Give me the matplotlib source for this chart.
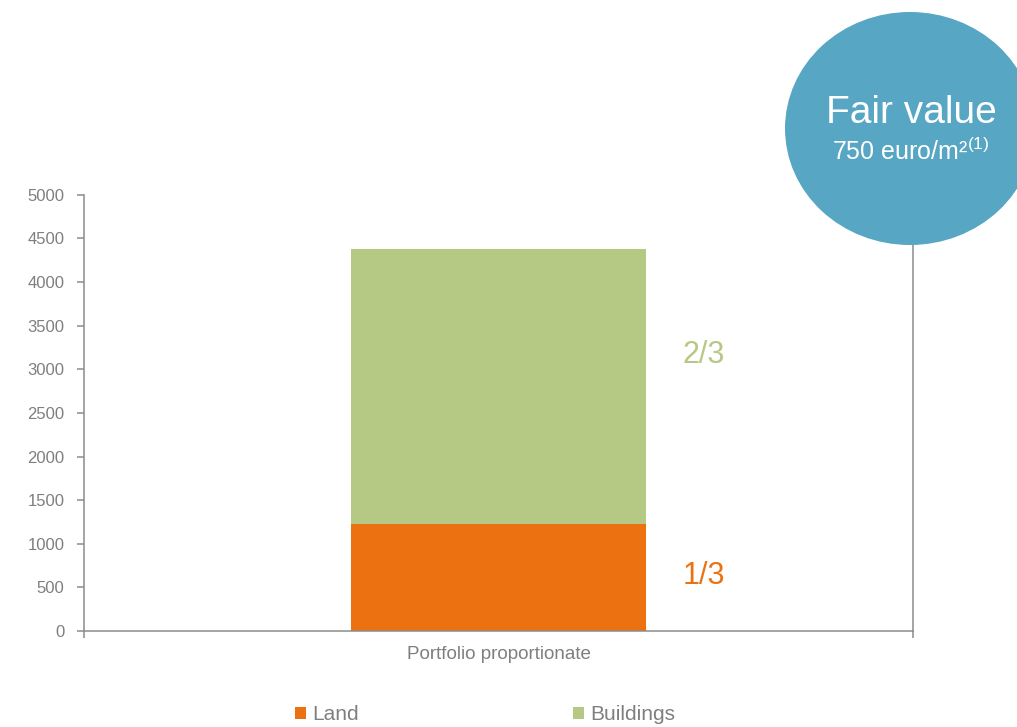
import matplotlib.pyplot as plt
from matplotlib.patches import Ellipse

plt.rcParams['font.family'] = ['Liberation Sans', 'DejaVu Sans']
plt.rcParams['mathtext.fontset'] = 'custom'
plt.rcParams['mathtext.rm'] = 'Liberation Sans'
plt.rcParams['mathtext.default'] = 'regular'

# Data
categories = ["Portfolio proportionate"]
land = [1230]
buildings = [3150]
share_labels = ["1/3", "2/3"]

orange = '#EC7211'
green = '#B5C985'
blue = '#57A6C4'
gray = '#8C8C8C'
text_gray = '#7F7F7F'

fig = plt.figure(figsize=(10.17, 7.27), dpi=100)
ax = fig.add_axes([0.0826, 0.132, 0.8151, 0.600])

x = range(len(categories))
ax.bar(x, land, width=0.356, color=orange, label='Land')
ax.bar(x, buildings, width=0.356, bottom=land, color=green, label='Buildings')

ax.set_xlim(-0.5, 0.5)
ax.set_ylim(0, 5000)
ax.set_yticks(range(0, 5001, 500))
ax.set_xticks([-0.5, 0.5])
ax.set_xticklabels(['', ''])
ax.tick_params(axis='both', colors=gray, length=5, width=1.1, labelcolor=text_gray, labelsize=12)
ax.tick_params(axis='y', pad=9)
for s in ['left', 'bottom', 'right']:
    ax.spines[s].set_color(gray)
    ax.spines[s].set_linewidth(1.1)
ax.spines['top'].set_visible(False)

ax.text(0, -0.035, categories[0], transform=ax.get_xaxis_transform(),
        ha='center', va='top', color=text_gray, fontsize=13.5)

ax.text(0.248, 630, share_labels[0], ha='center', va='center', color=orange, fontsize=22)
ax.text(0.248, 3165, share_labels[1], ha='center', va='center', color=green, fontsize=22)

# Fair value bubble
bubble = Ellipse((9.10, 7.27 - 1.285), 2.50, 2.33, transform=fig.dpi_scale_trans,
                 facecolor=blue, edgecolor='none', zorder=10, clip_on=False)
fig.add_artist(bubble)
fig.text(911 / 1017, 1 - 113 / 727, 'Fair value', ha='center', va='center',
         color='white', fontsize=28, zorder=11)
fig.text(911 / 1017, 1 - 151 / 727, '750 euro/m²$^{(1)}$', ha='center', va='center',
         color='white', fontsize=18, zorder=11)

fig.legend(loc='center', bbox_to_anchor=(0.477, 1 - 715 / 727), ncol=2, frameon=False,
           fontsize=15, labelcolor=text_gray, handlelength=0.5, handleheight=0.5,
           handletextpad=0.3, columnspacing=10.3)

fig.savefig('out.png', dpi=100)
